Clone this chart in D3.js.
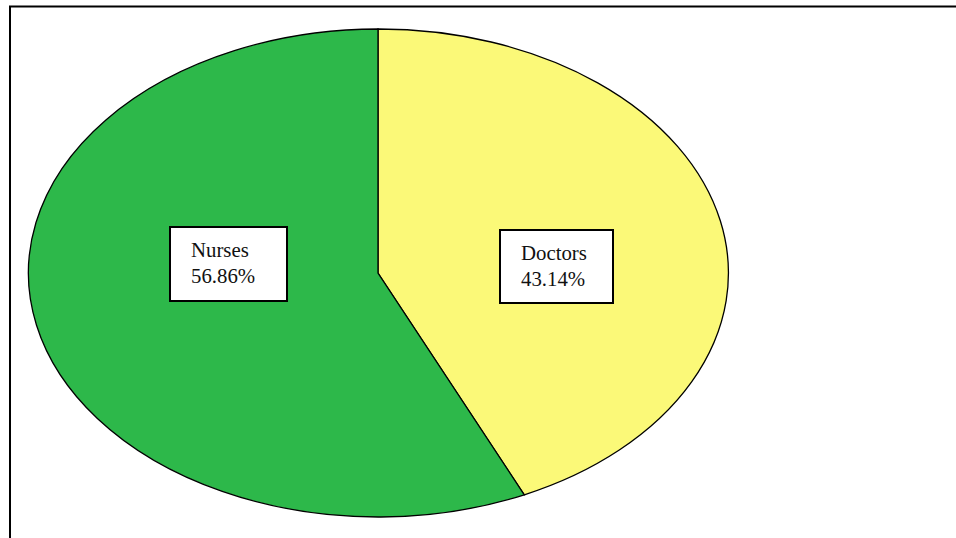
<!DOCTYPE html>
<html>
<head>
<meta charset="utf-8">
<script src="https://cdn.jsdelivr.net/npm/d3@7"></script>
<style>
  html, body { margin: 0; padding: 0; background: #fff; }
  svg { display: block; }
</style>
</head>
<body>
<svg width="956" height="538"></svg>
<script>
var categories = ["Doctors", "Nurses"];
var values = [43.14, 56.86];
var labels = ["Doctors\n43.14%", "Nurses\n56.86%"];
var colors = ["#fbf978", "#2db84a"];

var svg = d3.select("svg"),
    width = +svg.attr("width"),
    height = +svg.attr("height");

// frame (left + top)
svg.append("path")
    .attr("d", "M10,538 L10,6.5 L956,6.5")
    .attr("fill", "none")
    .attr("stroke", "#000")
    .attr("stroke-width", 2);

var cx = 378, cy = 273, rx = 350, ry = 244;

var pie = d3.pie().sort(null).value(function(d) { return d; });
var arc = d3.arc().innerRadius(0).outerRadius(1);

var data = pie(values);

var g = svg.append("g")
    .attr("transform", "translate(" + cx + "," + cy + ") scale(" + rx + "," + ry + ")");

g.selectAll("path")
    .data(data)
    .enter().append("path")
      .attr("d", arc)
      .attr("fill", function(d, i) { return colors[i]; })
      .attr("stroke", "#000")
      .attr("stroke-width", 1.3)
      .attr("vector-effect", "non-scaling-stroke");

// label boxes, offset from the ellipse centre
var boxes = [
  {dx: 122, dy: -43, w: 113, h: 73},
  {dx: -208, dy: -46, w: 117, h: 74}
];

var lab = svg.append("g").selectAll("g")
    .data(data)
    .enter().append("g")
      .attr("transform", function(d, i) {
        return "translate(" + (cx + boxes[i].dx) + "," + (cy + boxes[i].dy) + ")";
      });

lab.append("rect")
    .attr("width", function(d, i) { return boxes[i].w; })
    .attr("height", function(d, i) { return boxes[i].h; })
    .attr("fill", "#fff")
    .attr("stroke", "#000")
    .attr("stroke-width", 2);

lab.each(function(d, i) {
  var t = d3.select(this).append("text")
      .attr("font-family", "'Liberation Serif', 'Times New Roman', serif")
      .attr("font-size", "20.8px")
      .attr("fill", "#111");
  labels[i].split("\n").forEach(function(line, k) {
    t.append("tspan")
        .attr("x", 21)
        .attr("y", 30 + k * 26)
        .text(line);
  });
});
</script>
</body>
</html>
